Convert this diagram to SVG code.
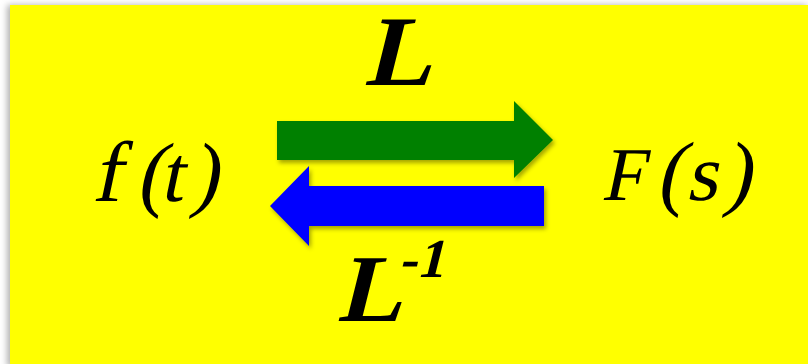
<svg xmlns="http://www.w3.org/2000/svg" width="808" height="364" viewBox="0 0 808 364">
  <defs>
    <filter id="sh" x="-10%" y="-20%" width="130%" height="150%">
      <feDropShadow dx="2" dy="3" stdDeviation="2" flood-color="#000" flood-opacity="0.35"/>
    </filter>
    <filter id="bgsh" x="-5%" y="-5%" width="110%" height="110%">
      <feDropShadow dx="-3" dy="0" stdDeviation="3" flood-color="#000" flood-opacity="0.3"/>
    </filter>
  </defs>
  <style>
    text { font-family: 'Liberation Serif', 'Times New Roman', serif; fill: #000; }
    .math { font-size: 84px; }
    .lbl { font-weight: bold; }
  </style>
  <rect x="0" y="0" width="808" height="364" fill="#fff"/>
  <rect x="10" y="5" width="800" height="362" fill="#FFFF00" filter="url(#bgsh)"/>

  <g id="node-ft">
    <text class="math" transform="translate(0,201) skewX(-12)" y="0"><tspan x="92" font-size="86">f</tspan><tspan x="136">(</tspan><tspan x="160" font-size="80">t</tspan><tspan x="190">)</tspan></text>
  </g>
  <g id="node-Fs">
    <text class="math" transform="translate(0,200) skewX(-12)" y="0"><tspan x="601" font-size="76">F</tspan><tspan x="656">(</tspan><tspan x="686" font-size="80">s</tspan><tspan x="723">)</tspan></text>
  </g>

  <g id="connectors">
    <polygon filter="url(#sh)" fill="#008000" points="277,121 514,121 514,101 553,140 514,178 514,160 277,160"/>
    <polygon filter="url(#sh)" fill="#0000FF" points="544,186 309,186 309,166 270,206 309,246 309,226 544,226"/>
    <text class="lbl" font-size="100" transform="translate(364,85) skewX(-14)" x="0" y="0">L</text>
    <text class="lbl" font-size="96" transform="translate(337,321) skewX(-14)" x="0" y="0">L<tspan x="50" dy="-44" font-size="55">-1</tspan></text>
  </g>
</svg>
